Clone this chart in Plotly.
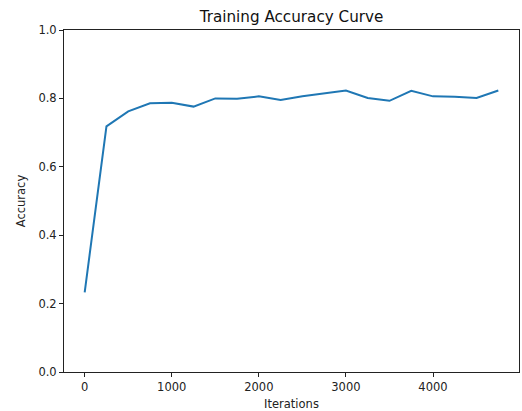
import plotly.graph_objects as go

iterations = [0, 250, 500, 750, 1000, 1250, 1500, 1750, 2000, 2250,
              2500, 2750, 3000, 3250, 3500, 3750, 4000, 4250, 4500, 4750]
accuracy = [0.233, 0.718, 0.762, 0.786, 0.787, 0.776, 0.800, 0.799, 0.806, 0.795,
            0.806, 0.815, 0.823, 0.801, 0.793, 0.822, 0.806, 0.805, 0.801, 0.823]
x_ticks = [0, 1000, 2000, 3000, 4000]
y_ticks = [0.0, 0.2, 0.4, 0.6, 0.8, 1.0]

FONT = "DejaVu Sans"

fig = go.Figure()
fig.add_trace(go.Scatter(x=iterations, y=accuracy, mode="lines",
                         line=dict(color="#1f77b4", width=2)))

axis_common = dict(showline=True, linecolor="#222", linewidth=1, mirror=True,
                   ticks="outside", ticklen=4, tickwidth=1, tickcolor="#222",
                   showgrid=False, zeroline=False,
                   tickfont=dict(family=FONT, size=11.5, color="#222"))

span = iterations[-1] - iterations[0]
fig.update_xaxes(range=[iterations[0] - 0.05 * span, iterations[-1] + 0.05 * span],
                 tickvals=x_ticks, ticktext=[str(v) for v in x_ticks],
                 title=dict(text="Iterations", font=dict(family=FONT, size=11.5, color="#222"),
                            standoff=7),
                 **axis_common)
fig.update_yaxes(range=[0, 1], tickvals=y_ticks, ticktext=[f"{v:.1f}" for v in y_ticks],
                 title=dict(text="Accuracy", font=dict(family=FONT, size=11.5, color="#222"),
                            standoff=10),
                 **axis_common)

fig.update_layout(
    width=522, height=411,
    margin=dict(l=64, r=3, t=30, b=39, autoexpand=False),
    plot_bgcolor="white", paper_bgcolor="white",
    showlegend=False,
    title=dict(text="Training Accuracy Curve", x=0.5, xanchor="center",
               xref="paper", y=1 - 17 / 411, yanchor="middle",
               font=dict(family=FONT, size=15.2, color="#111")),
)

fig.write_html("out.html")
